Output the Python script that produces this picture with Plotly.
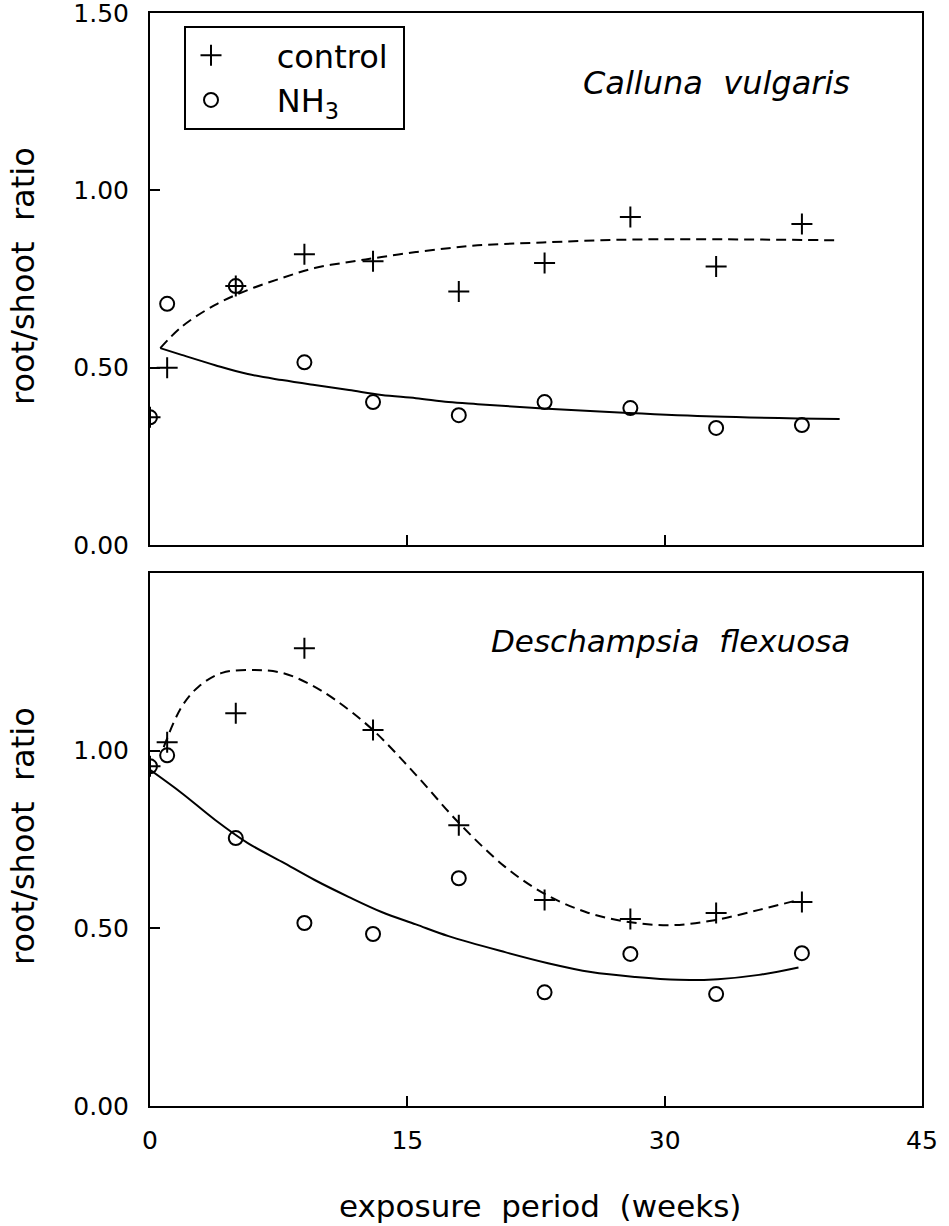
import plotly.graph_objects as go

# ---------------- data ----------------
weeks = [0, 1, 5, 9, 13, 18, 23, 28, 33, 38]

calluna_control = [0.36, 0.50, 0.73, 0.82, 0.80, 0.715, 0.795, 0.925, 0.785, 0.905]
calluna_nh3 = [0.36, 0.68, 0.73, 0.515, 0.403, 0.366, 0.403, 0.386, 0.33, 0.338]

desch_control = [0.956, 1.024, 1.105, 1.288, 1.058, 0.79, 0.58, 0.526, 0.543, 0.574]
desch_nh3 = [0.956, 0.987, 0.754, 0.515, 0.484, 0.641, 0.32, 0.428, 0.315, 0.43]

# fitted curves
calluna_fit_control_x = [0.6, 1.84, 3.8, 5.7, 7.7, 9.6, 11.6, 13.5, 15.5, 17.4, 19.1, 22.9, 27.8, 32.8, 40.2]
calluna_fit_control_y = [0.555, 0.615, 0.677, 0.719, 0.753, 0.781, 0.798, 0.812, 0.826, 0.837, 0.845, 0.853, 0.861, 0.862, 0.859]
calluna_fit_nh3_x = [0.6, 1.84, 3.8, 5.7, 7.7, 9.6, 11.6, 13.5, 15.5, 17.4, 19.1, 22.9, 27.9, 32.9, 40.2]
calluna_fit_nh3_y = [0.555, 0.536, 0.507, 0.482, 0.465, 0.451, 0.437, 0.423, 0.414, 0.403, 0.397, 0.385, 0.372, 0.362, 0.355]

desch_fit_control_x = [0.8, 1.84, 2.83, 4.2, 6.1, 7.7, 9.2, 10.8, 13.0, 15.5, 18.0, 20.7, 22.9, 25.4, 27.9, 30.4, 32.9, 35.5, 37.8]
desch_fit_control_y = [1.01, 1.123, 1.18, 1.219, 1.227, 1.219, 1.19, 1.143, 1.058, 0.932, 0.797, 0.673, 0.60, 0.546, 0.518, 0.509, 0.523, 0.552, 0.58]
desch_fit_nh3_x = [0, 1.84, 3.8, 5.7, 7.7, 9.6, 11.6, 13.5, 15.5, 17.4, 20.7, 23.2, 25.7, 28.3, 30.8, 33.1, 35.5, 37.8]
desch_fit_nh3_y = [0.946, 0.881, 0.805, 0.74, 0.687, 0.636, 0.588, 0.546, 0.511, 0.478, 0.433, 0.402, 0.377, 0.363, 0.355, 0.357, 0.369, 0.39]

x_ticks = [0, 15, 30, 45]
x_tick_labels = ["0", "15", "30", "45"]
y_ticks_top = [0, 0.5, 1.0, 1.5]
y_tick_labels_top = ["0.00", "0.50", "1.00", "1.50"]
y_ticks_bottom = [0, 0.5, 1.0]
y_tick_labels_bottom = ["0.00", "0.50", "1.00"]

FONT = "DejaVu Sans"
W, H = 949, 1226

fig = go.Figure()

cross = dict(symbol="cross-thin-open", size=15, color="black", line=dict(color="black", width=2))
circ = dict(symbol="circle-open", size=14, color="black", line=dict(color="black", width=2))

# top panel
fig.add_trace(go.Scatter(x=calluna_fit_control_x, y=calluna_fit_control_y, mode="lines",
                         line=dict(color="black", width=2, dash="10px,6px", shape="spline"),
                         showlegend=False, xaxis="x", yaxis="y"))
fig.add_trace(go.Scatter(x=calluna_fit_nh3_x, y=calluna_fit_nh3_y, mode="lines",
                         line=dict(color="black", width=2, shape="spline"),
                         showlegend=False, xaxis="x", yaxis="y"))
fig.add_trace(go.Scatter(x=weeks, y=calluna_control, mode="markers", marker=cross,
                         name="\u00a0\u00a0\u00a0\u00a0control\u00a0", showlegend=True, xaxis="x", yaxis="y"))
fig.add_trace(go.Scatter(x=weeks, y=calluna_nh3, mode="markers", marker=circ,
                         name="\u00a0\u00a0\u00a0\u00a0NH<sub>3</sub>", showlegend=True, xaxis="x", yaxis="y"))

# bottom panel
fig.add_trace(go.Scatter(x=desch_fit_control_x, y=desch_fit_control_y, mode="lines",
                         line=dict(color="black", width=2, dash="10px,6px", shape="spline"),
                         showlegend=False, xaxis="x2", yaxis="y2"))
fig.add_trace(go.Scatter(x=desch_fit_nh3_x, y=desch_fit_nh3_y, mode="lines",
                         line=dict(color="black", width=2, shape="spline"),
                         showlegend=False, xaxis="x2", yaxis="y2"))
fig.add_trace(go.Scatter(x=weeks, y=desch_control, mode="markers", marker=cross,
                         showlegend=False, xaxis="x2", yaxis="y2"))
fig.add_trace(go.Scatter(x=weeks, y=desch_nh3, mode="markers", marker=circ,
                         showlegend=False, xaxis="x2", yaxis="y2"))

xdom = [150 / W, 922 / W]
top_dom = [1 - 545 / H, 1 - 13 / H]
bot_dom = [1 - 1106 / H, 1 - 573 / H]

axis_common = dict(showline=True, linecolor="black", linewidth=2, mirror=True,
                   ticks="inside", ticklen=10, tickwidth=2, tickcolor="black",
                   showgrid=False, zeroline=False, automargin=False,
                   ticklabeloverflow="allow",
                   tickfont=dict(family=FONT, size=25, color="black"))

fig.update_layout(
    width=W, height=H, template="none",
    paper_bgcolor="white", plot_bgcolor="white",
    margin=dict(l=0, r=0, t=0, b=0),
    xaxis=dict(domain=xdom, range=[0, 45], tickvals=x_ticks, ticktext=x_tick_labels,
               showticklabels=False, anchor="y", **axis_common),
    yaxis=dict(domain=top_dom, range=[0, 1.5], tickvals=y_ticks_top, ticktext=y_tick_labels_top,
               anchor="x", ticklabelstandoff=14, **axis_common),
    xaxis2=dict(domain=xdom, range=[0, 45], tickvals=x_ticks, ticktext=x_tick_labels,
                anchor="y2", ticklabelstandoff=11, **axis_common),
    yaxis2=dict(domain=bot_dom, range=[0, 1.5], tickvals=y_ticks_bottom, ticktext=y_tick_labels_bottom,
                anchor="x2", ticklabelstandoff=14, **axis_common),
    legend=dict(x=184 / W, y=1 - 26 / H, xanchor="left", yanchor="top",
                bgcolor="white", bordercolor="black", borderwidth=2,
                font=dict(family=FONT, size=32, color="black"),
                tracegroupgap=0, itemwidth=40),
    annotations=[
        dict(text="<i>Calluna\u00a0\u00a0vulgaris</i>", x=716 / W, y=1 - 83 / H, xref="paper", yref="paper",
             showarrow=False, xanchor="center", yanchor="middle",
             font=dict(family=FONT, size=32, color="black")),
        dict(text="<i>Deschampsia\u00a0\u00a0flexuosa</i>", x=670 / W, y=1 - 641 / H, xref="paper", yref="paper",
             showarrow=False, xanchor="center", yanchor="middle",
             font=dict(family=FONT, size=31, color="black")),
        dict(text="root/shoot\u00a0\u00a0ratio", x=23 / W, y=1 - 276 / H, xref="paper", yref="paper",
             showarrow=False, xanchor="center", yanchor="middle", textangle=-90,
             font=dict(family=FONT, size=32, color="black")),
        dict(text="root/shoot\u00a0\u00a0ratio", x=23 / W, y=1 - 836 / H, xref="paper", yref="paper",
             showarrow=False, xanchor="center", yanchor="middle", textangle=-90,
             font=dict(family=FONT, size=32, color="black")),
        dict(text="exposure\u00a0\u00a0period\u00a0\u00a0(weeks)", x=540 / W, y=1 - 1206 / H,
             xref="paper", yref="paper", showarrow=False, xanchor="center", yanchor="middle",
             font=dict(family=FONT, size=31, color="black")),
    ],
)

fig.write_html("out.html")
